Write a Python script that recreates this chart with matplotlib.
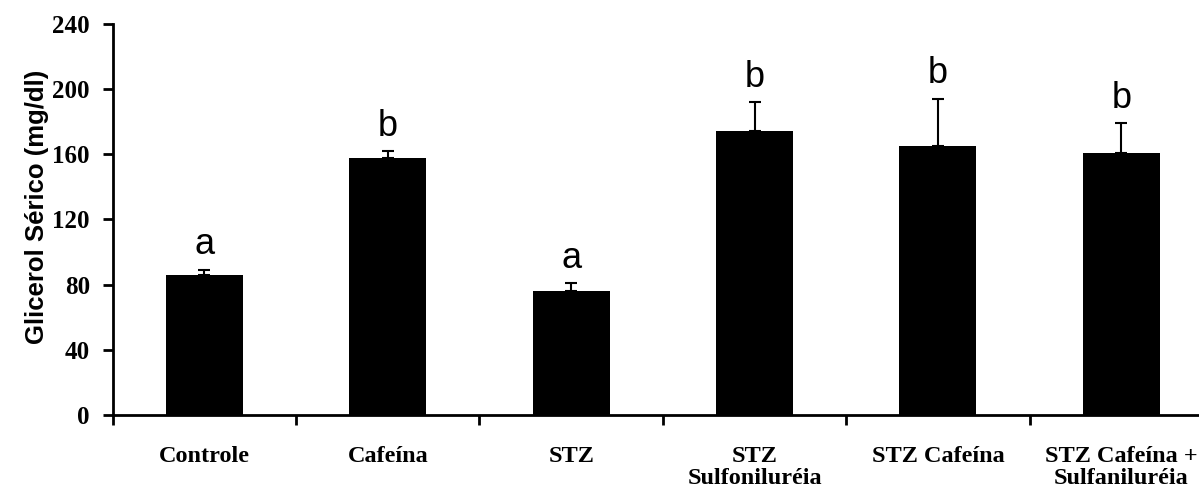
import matplotlib
matplotlib.use("Agg")
import matplotlib.pyplot as plt
import numpy as np

groups = ["Controle", "Cafeína", "STZ", "STZ\nSulfoniluréia", "STZ Cafeína",
          "STZ Cafeína +\nSulfaniluréia"]
means = [86, 158, 76, 174, 165, 161]
errors = [3, 4, 5, 18, 29, 18]
letters = ["a", "b", "a", "b", "b", "b"]

fig = plt.figure(figsize=(11.99, 4.94), dpi=100)
ax = fig.add_axes([0.094, 0.16, 0.91, 0.7915])

x = np.arange(len(groups))
ax.bar(x, means, width=0.42, color="black", zorder=2)
ax.errorbar(x, means, yerr=[np.zeros(len(errors)), errors], fmt="none",
            ecolor="black", elinewidth=1.5, capsize=4, capthick=1.5, zorder=1)

# significance letters above each bar
for xi, m, e, lab in zip(x, means, errors, letters):
    ax.text(xi, m + e + 9.5, lab, ha="center", va="baseline",
            fontsize=26, family="Liberation Sans")

ax.set_xlim(-0.5, 5.45)
ax.set_ylim(0, 240)
ax.set_yticks(range(0, 241, 40))
ax.set_xticks(np.arange(-0.5, 5.5, 1.0))
ax.set_xticklabels([])
ax.set_xticks(x, minor=True)
ax.set_xticklabels(groups, minor=True, fontsize=17.5, fontweight="bold",
                   family="Liberation Serif", linespacing=1.1)
ax.tick_params(axis="x", which="minor", length=0, pad=22)
ax.tick_params(axis="x", which="major", length=7, width=2)
ax.tick_params(axis="y", length=7, width=2, labelsize=18, pad=9.5)
for t in ax.get_yticklabels():
    t.set_fontweight("bold")
    t.set_family("Liberation Serif")

for s in ["top", "right"]:
    ax.spines[s].set_visible(False)
for s in ["left", "bottom"]:
    ax.spines[s].set_linewidth(2)

ax.set_ylabel("Glicerol Sérico (mg/dl)", fontsize=18.5, fontweight="bold",
              family="Liberation Sans")
ax.yaxis.set_label_coords(-0.058, 0.532)

fig.savefig("out.png", dpi=100)
